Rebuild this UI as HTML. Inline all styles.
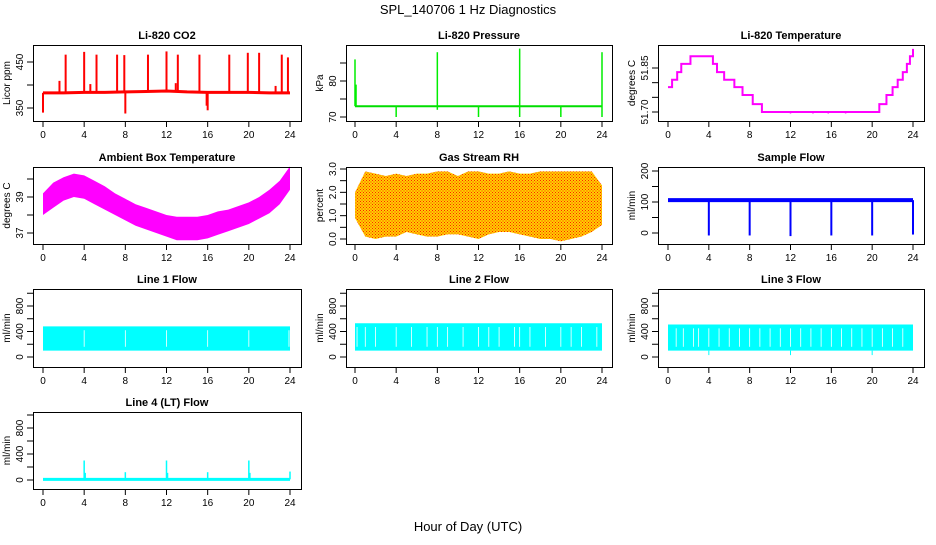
<!DOCTYPE html>
<html><head><meta charset="utf-8">
<style>
html,body{margin:0;padding:0;background:#fff;}
svg text{font-family:"Liberation Sans",Arial,sans-serif;}
</style></head>
<body>
<svg id="chart" width="936" height="540" viewBox="0 0 936 540" xmlns="http://www.w3.org/2000/svg">
<rect x="0" y="0" width="936" height="540" fill="#fff"/>
<defs>
<pattern id="rhpat" width="3" height="3" patternUnits="userSpaceOnUse">
<rect width="3" height="3" fill="#ffd000"/>
<rect x="0" y="0" width="1" height="1" fill="#ff2000"/>
<rect x="1.5" y="1.5" width="1" height="1" fill="#ff2000"/>
</pattern>
</defs>
<text x="468" y="14" text-anchor="middle" font-size="13">SPL_140706  1 Hz Diagnostics</text>
<text x="468" y="531" text-anchor="middle" font-size="13">Hour of Day (UTC)</text>
</svg>
<script>
// ---- data arrays ----
const xTicks = [0,4,8,12,16,20,24];
// CO2
const co2Hours = [0,2,4,6,8,10,12,14,16,18,20,22,24];
const co2Base  = [383,383,384,384,385,386,387,385,384,384,384,383,383];
const co2SpikeHours = [0,1.6,2.2,4.0,4.6,5.2,7.2,7.9,8.0,10.2,12.0,12.9,13.1,15.2,15.9,16.0,18.1,19.9,21.0,22.6,23.2,23.8];
const co2SpikeVals  = [340,409,466,472,402,466,466,465,338,466,473,404,466,466,355,345,466,470,470,398,466,460];
// Pressure
const presBase = 73;
const presSpikeHours = [0,0.1,4,8,12,16,20,24];
const presSpikeVals  = [86,79,70,88,70,89,70,88];
const presDipVals    = [73,73,73,72,73,70,73,70];
// Li-820 temperature (step series)
const ltHours = [0,0.4,0.9,1.3,2.2,4.4,4.8,5.5,6.5,7.3,8.3,9.2,20.7,21.4,22.0,22.5,23.0,23.4,23.7,24];
const ltVals  = [51.785,51.81,51.836,51.864,51.89,51.864,51.836,51.81,51.785,51.758,51.727,51.70,51.727,51.758,51.785,51.81,51.836,51.864,51.89,51.915];
const ltDipHours = [12.0,14.2,15.7,17.4];
const ltDipVals  = [51.695,51.695,51.695,51.695];
// Ambient box temperature envelope
const ambHours = [0,1,2,3,4,5,6,7,8,9,10,11,12,13,14,15,16,17,18,19,20,21,22,23,24];
const ambHi = [39.2,39.8,40.1,40.3,40.2,39.9,39.6,39.2,38.9,38.6,38.4,38.2,38.0,37.9,37.9,37.9,38.0,38.2,38.3,38.5,38.7,39.0,39.4,39.9,40.7];
const ambLo = [38.0,38.4,38.8,39.0,38.9,38.6,38.3,38.0,37.7,37.4,37.2,37.0,36.8,36.6,36.6,36.6,36.7,36.9,37.1,37.3,37.5,37.8,38.1,38.6,39.4];
// Gas stream RH envelope
const rhHours = [0,1,2,3,4,5,6,7,8,9,10,11,12,13,14,15,16,17,18,19,20,21,22,23,24];
const rhHi = [2.0,2.9,2.8,2.7,2.8,2.7,2.8,2.8,2.9,2.9,2.7,2.9,2.9,2.8,2.8,2.9,2.8,2.8,2.9,2.9,2.9,2.9,2.9,2.9,2.3];
const rhLo = [0.9,0.1,0.0,0.1,0.1,0.3,0.2,0.1,0.1,0.2,0.2,0.1,0.0,0.2,0.3,0.3,0.2,0.1,0.0,0.0,-0.1,0.0,0.1,0.3,0.6];
// Sample flow
const sfBase = 106;
const sfDipHours = [4,8,12,16,20,24];
const sfDipVals  = [-8,-8,-10,-8,-8,-5];
// Line flows (band lo/hi, gaps)
const l1Lo = 100, l1Hi = 480;
const l1Gaps = [4.0,8.0,12.0,16.0,20.0,23.9];
const l2Lo = 100, l2Hi = 530;
const l2Gaps = [0.2,1,2,4,5.5,7,8,9,10.5,12,13,14,15.5,16,17,18.5,20,21,22,23.5];
const l3Lo = 100, l3Hi = 510;
const l3Gaps = [0.8,1.5,2.5,3,4,5,6,7,8,9,10,11,12,13,14,15,16,17,18,19,20,21,22,23];
const l3DipHours = [4,12,20];
const l3DipVals = [30,30,30];
// Line 4
const l4Base = 10;
const l4SpikeHours = [4.0,4.1,8.0,12.0,12.1,16.0,20.0,20.1,24.0];
const l4SpikeVals  = [300,110,120,300,110,120,300,110,130];

// ---- helpers ----
const svg = document.getElementById('chart');
const NS = 'http://www.w3.org/2000/svg';
function mk(tag, attrs, parent){
  const e = document.createElementNS(NS, tag);
  for (const k in attrs) e.setAttribute(k, attrs[k]);
  (parent||svg).appendChild(e);
  return e;
}
const cols = [{l:33,r:301,x0:43,x24:290},{l:346,r:612,x0:355,x24:602},{l:658,r:924,x0:668,x24:913}];
const rows = [{t:45,b:121},{t:167,b:244},{t:289,b:367},{t:412,b:489}];

function panel(name, title, ylab, ci, ri, v1, p1, v2, p2, ticks, labels){
  const c = cols[ci], r = rows[ri];
  const g = mk('g', {});
  
  
  const X = h => c.x0 + (c.x24 - c.x0) * h / 24;
  const Y = v => p1 + (v - v1) * (p2 - p1) / (v2 - v1);
  const t = mk('text', {x:(c.l+c.r)/2, y:r.t-6, 'text-anchor':'middle','font-size':'11','font-weight':'bold'}, g);
  t.textContent = title;
  
  
  const yl = mk('text', {x:0,y:0,'text-anchor':'middle','font-size':'10',transform:`translate(${c.l-23},${(r.t+r.b)/2}) rotate(-90)`}, g);
  yl.textContent = ylab;
  
  
  // x axis
  xTicks.forEach(h => {
    mk('line', {x1:X(h),x2:X(h),y1:r.b,y2:r.b+6,stroke:'#000','stroke-width':1}, g);
    const tx = mk('text', {x:X(h),y:r.b+17,'text-anchor':'middle','font-size':'10'}, g);
    tx.textContent = h;
    
    
  });
  ticks.forEach(v => {
    mk('line', {x1:c.l-6,x2:c.l,y1:Y(v),y2:Y(v),stroke:'#000','stroke-width':1}, g);
  });
  labels.forEach(v => {
    const tx = mk('text', {x:0,y:0,'text-anchor':'middle','font-size':'10',transform:`translate(${c.l-10},${Y(v[0])}) rotate(-90)`}, g);
    tx.textContent = v[1];
    
    
  });
  const plot = mk('g', {}, g);
  
  
  const box = mk('rect', {x:c.l+0.5,y:r.t+0.5,width:c.r-c.l,height:r.b-r.t,fill:'none',stroke:'#000','stroke-width':1}, g);
  
  
  return {X, Y, g:plot};
}
function vline(p, h, a, b, col, w){
  mk('line', {x1:p.X(h),x2:p.X(h),y1:p.Y(a),y2:p.Y(b),stroke:col,'stroke-width':w||1.5}, p.g);
}
function poly(p, hs, vs, col, w){
  mk('polyline', {points:hs.map((h,i)=>p.X(h)+','+p.Y(vs[i])).join(' '),fill:'none',stroke:col,'stroke-width':w}, p.g);
}
function band(p, hs, lo, hi, fill){
  const pts = hs.map((h,i)=>p.X(h)+','+p.Y(hi[i])).concat(hs.slice().reverse().map((h,j)=>{const i=hs.length-1-j;return p.X(h)+','+p.Y(lo[i]);}));
  mk('polygon', {points:pts.join(' '),fill:fill,stroke:'none'}, p.g);
}
function step(p, hs, vs, col, w){
  const pts = [];
  for (let i=0;i<hs.length;i++){
    if (i>0) pts.push(p.X(hs[i])+','+p.Y(vs[i-1]));
    pts.push(p.X(hs[i])+','+p.Y(vs[i]));
  }
  mk('polyline', {points:pts.join(' '),fill:'none',stroke:col,'stroke-width':w}, p.g);
}

// CO2
let p = panel('co2','Li-820 CO2','Licor ppm',0,0,350,108,450,62,[350,400,450],[[350,'350'],[450,'450']]);
poly(p, co2Hours, co2Base, '#ff0000', 3);
co2SpikeHours.forEach((h,i)=>vline(p,h,co2Base[Math.round(h/2)],co2SpikeVals[i],'#ff0000',2));

// Pressure
p = panel('pressure','Li-820 Pressure','kPa',1,0,70,117,80,81,[70,75,80,85],[[70,'70'],[80,'80']]);
poly(p, [0,24], [presBase,presBase], '#00dd00', 2);
presSpikeHours.forEach((h,i)=>vline(p,h,presDipVals[i],presSpikeVals[i],'#00ee00',1.5));

// Li-820 Temperature
p = panel('li820-temp','Li-820 Temperature','degrees C',2,0,51.70,112,51.85,68,[51.70,51.75,51.80,51.85],[[51.70,'51.70'],[51.85,'51.85']]);
step(p, ltHours, ltVals, '#ff00ff', 2);
ltDipHours.forEach((h,i)=>vline(p,h,51.70,ltDipVals[i],'#ff00ff',1.5));

// Ambient
p = panel('ambient-temp','Ambient Box Temperature','degrees C',0,1,37,233,39,197,[37,38,39,40],[[37,'37'],[39,'39']]);
band(p, ambHours, ambLo, ambHi, '#ff00ff');

// RH
p = panel('gas-rh','Gas Stream RH','percent',1,1,0,239,3,169,[0,0.5,1,1.5,2,2.5,3],[[0,'0.0'],[1,'1.0'],[2,'2.0'],[3,'3.0']]);
band(p, rhHours, rhLo, rhHi, 'url(#rhpat)');

// Sample flow
p = panel('sample-flow','Sample Flow','ml/min',2,1,0,233,200,171,[0,50,100,150,200],[[0,'0'],[100,'100'],[200,'200']]);
poly(p, [0,24], [sfBase,sfBase], '#0000ff', 4);
sfDipHours.forEach((h,i)=>vline(p,h,sfBase,sfDipVals[i],'#0000ff',2));

// Line flows
const lf = [['line1-flow','Line 1 Flow',0,l1Lo,l1Hi,l1Gaps,[]],['line2-flow','Line 2 Flow',1,l2Lo,l2Hi,l2Gaps,[]],['line3-flow','Line 3 Flow',2,l3Lo,l3Hi,l3Gaps,l3DipHours]];
lf.forEach(d=>{
  const q = panel(d[0],d[1],'ml/min',d[2],2,0,357,800,306,[0,200,400,600,800,1000],[[0,'0'],[400,'400'],[800,'800']]);
  band(q,[0,24],[d[3],d[3]],[d[4],d[4]],'#00ffff');
  d[5].forEach(h=>vline(q,h,d[3]+60,d[4]-60,'#ffffff',0.8));
  d[6].forEach((h,i)=>vline(q,h,d[3],l3DipVals[i],'#00ffff',1));
});

// Line 4
p = panel('line4-flow','Line 4 (LT) Flow','ml/min',0,3,0,480,800,428,[0,200,400,600,800,1000],[[0,'0'],[400,'400'],[800,'800']]);
poly(p, [0,24], [l4Base,l4Base], '#00ffff', 3);
l4SpikeHours.forEach((h,i)=>vline(p,h,l4Base,l4SpikeVals[i],'#00ffff',1.5));
</script>
</body></html>
